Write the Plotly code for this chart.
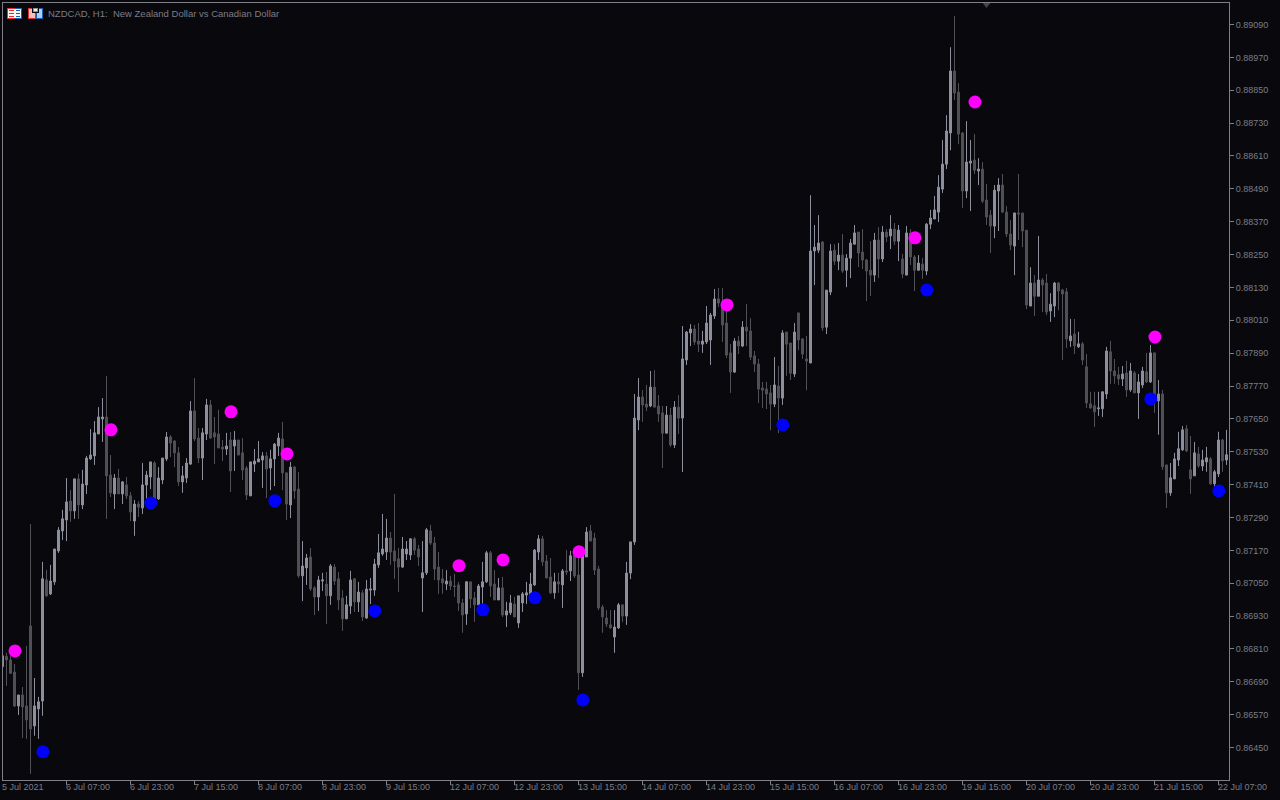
import numpy as np
import plotly.graph_objects as go

# prices in points (1 point = 0.00001)
opens = [
86746,86783,86770,86726,86602,86642,86602,86894,86529,86591,
86620,87062,87011,87055,87168,87241,87281,87350,87314,87431,
87336,87409,87504,87515,87595,87650,87657,87445,87376,87434,
87376,87409,87369,87277,87339,87325,87409,87438,87489,87358,
87427,87504,87584,87569,87526,87420,87434,87485,87679,87580,
87507,87595,87701,87599,87595,87547,87540,87573,87551,87573,
87526,87471,87369,87485,87493,87500,87515,87471,87504,87551,
87577,87453,87336,87474,87394,87077,87106,87146,87033,87000,
87058,87047,87004,87109,87066,86996,86920,86967,87066,86982,
87015,86923,87025,87025,87117,87157,87164,87215,87168,87139,
87109,87157,87153,87212,87175,87069,87088,87241,87197,87109,
87066,87047,87058,87040,87044,86978,86938,87055,86996,86971,
87036,87055,87161,87047,86989,87033,86934,86942,86974,86905,
86978,87007,87004,87044,87164,87212,87131,87073,87015,87055,
87044,87095,87095,87153,87080,86723,87146,87241,87215,87102,
86963,86923,86898,86854,86887,86971,86930,87087,87201,87646,
87730,87704,87697,87766,87697,87672,87598,87664,87555,87693,
87653,87865,87964,87978,87934,87923,87931,87938,88026,88088,
88073,88000,87891,87821,87934,87916,87985,87971,87880,87850,
87763,87759,87745,87704,87770,87726,87967,87927,87814,88037,
87942,87869,87854,88263,88266,88296,87985,88113,88266,88226,
88248,88193,88237,88288,88332,88259,88230,88193,88175,88303,
88234,88332,88318,88343,88299,88234,88175,88329,88241,88193,
88215,88190,88361,88380,88405,88489,88580,88694,88920,88843,
88694,88482,88584,88595,88555,88562,88449,88394,88354,88482,
88504,88405,88325,88281,88402,88402,88339,88062,88146,88098,
88157,88146,88044,88062,88146,88121,88114,87935,87960,87913,
87924,87840,87705,87698,87687,87687,87741,87895,87825,87811,
87796,87818,87756,87818,87745,87774,87822,87785,87891,87716,
87741,87482,87380,87431,87500,87537,87614,87464,87442,87522,
87478,87493,87504,87413,87449,87573,87500]
highs = [
86785,86796,86785,86755,86642,86671,86821,87266,86704,86635,
87128,87099,87117,87175,87255,87318,87434,87390,87431,87449,
87464,87515,87613,87642,87693,87726,87807,87518,87449,87467,
87423,87438,87383,87354,87350,87489,87460,87493,87496,87474,
87507,87602,87591,87573,87547,87478,87507,87715,87799,87617,
87617,87723,87719,87657,87683,87573,87599,87602,87606,87573,
87580,87478,87493,87540,87569,87529,87529,87537,87562,87599,
87639,87453,87493,87478,87456,87204,87157,87179,87040,87077,
87088,87091,87120,87120,87091,87025,87004,87095,87069,87055,
87025,87062,87069,87139,87230,87303,87285,87237,87376,87179,
87219,87204,87215,87219,87190,87204,87252,87263,87219,87164,
87102,87098,87077,87084,87055,86993,87058,87055,87018,87047,
87128,87168,87168,87098,87069,87073,86982,87007,87000,87004,
87018,87055,87088,87175,87226,87223,87153,87142,87088,87088,
87102,87171,87168,87171,87153,87157,87255,87263,87234,87113,
86971,86952,86952,86952,86978,86971,87128,87201,87741,87799,
87755,87774,87825,87828,87737,87697,87697,87690,87715,87737,
87989,87971,87996,87993,88000,87971,88062,88037,88124,88128,
88128,88047,87923,87945,87953,88007,88069,88018,87898,87869,
87785,87785,87774,87876,87843,87974,87967,87927,88000,88037,
87945,87953,88467,88358,88394,88299,88120,88288,88288,88292,
88325,88252,88307,88358,88332,88343,88234,88299,88329,88350,
88354,88343,88394,88365,88358,88252,88354,88343,88248,88248,
88237,88365,88413,88464,88540,88668,88759,89007,89121,88876,
88697,88737,88668,88690,88602,88588,88507,88413,88504,88529,
88544,88427,88376,88402,88544,88402,88339,88204,88175,88318,
88164,88179,88109,88150,88150,88125,88128,88015,88015,87968,
87931,87887,87749,87749,87749,87749,87913,87935,87869,87840,
87843,87862,87854,87825,87814,87840,87891,87920,87891,87792,
87756,87482,87489,87526,87603,87624,87628,87588,87566,87548,
87537,87548,87511,87464,87603,87577,87610]
lows = [
86746,86675,86719,86598,86569,86485,86482,86354,86493,86482,
86566,87000,87007,87044,87161,87208,87204,87274,87285,87285,
87321,87376,87500,87482,87595,87566,87285,87365,87321,87376,
87339,87358,87277,87223,87292,87303,87354,87394,87350,87354,
87412,87496,87511,87474,87405,87380,87416,87482,87569,87489,
87427,87573,87577,87485,87544,87496,87518,87383,87460,87518,
87427,87354,87369,87456,87493,87398,87361,87390,87405,87515,
87390,87281,87288,87358,87070,86985,87044,87022,86934,86949,
87022,86901,86971,87044,86952,86876,86920,86938,86945,86945,
86912,86920,86974,87004,87106,87150,87135,87117,87066,87018,
87106,87135,87135,87153,87113,86945,87080,87190,87062,87011,
87011,87025,87025,87000,86949,86869,86898,86960,86909,86967,
86967,87051,87000,86989,86989,86927,86890,86934,86927,86887,
86945,86974,86996,87040,87135,87113,87069,87011,86993,87015,
86960,87080,87058,87069,86661,86708,87146,87204,87080,86952,
86869,86890,86883,86796,86883,86908,86898,87065,87190,87609,
87639,87679,87693,87693,87639,87471,87598,87547,87544,87595,
87456,87847,87916,87920,87894,87891,87923,87847,88015,88058,
87931,87872,87745,87818,87887,87912,87916,87865,87821,87708,
87690,87686,87609,87693,87598,87701,87807,87792,87803,87901,
87869,87755,87854,88139,88256,87971,87960,88102,88212,88193,
88183,88131,88164,88288,88204,88197,88080,88099,88150,88164,
88223,88296,88270,88285,88226,88164,88175,88212,88117,88190,
88161,88175,88343,88380,88369,88475,88562,88631,88814,88653,
88420,88456,88409,88544,88504,88438,88358,88256,88310,88336,
88402,88314,88266,88175,88303,88277,88051,88062,88026,88098,
88040,88029,88004,88022,88047,87865,87909,87913,87887,87909,
87847,87690,87687,87621,87661,87657,87723,87778,87778,87774,
87770,87730,87749,87745,87650,87763,87781,87781,87672,87592,
87464,87325,87369,87431,87478,87533,87530,87376,87442,87471,
87460,87457,87409,87398,87438,87457,87482]
closes = [
86785,86770,86721,86602,86642,86598,86551,86518,86602,86617,
87066,87004,87058,87175,87244,87285,87347,87314,87431,87336,
87412,87507,87518,87599,87657,87657,87442,87380,87434,87376,
87420,87369,87310,87339,87328,87409,87445,87493,87358,87434,
87507,87584,87562,87526,87420,87442,87489,87679,87577,87507,
87599,87701,87580,87584,87544,87540,87551,87460,87573,87518,
87463,87372,87493,87496,87504,87515,87467,87504,87558,87580,
87453,87339,87474,87387,87077,87113,87142,87029,87000,87062,
87062,87004,87113,87058,86989,86920,86971,87062,86982,87018,
86927,87029,87029,87120,87161,87175,87215,87164,87131,87109,
87175,87175,87212,87171,87146,87088,87245,87197,87102,87062,
87051,87058,87040,87038,86978,86934,87055,86993,86971,87040,
87055,87161,87040,86989,87033,86934,86949,86978,86927,87004,
87011,87015,87047,87171,87212,87128,87069,87015,87055,87047,
87095,87091,87150,87077,86723,87153,87237,87204,87098,86960,
86927,86901,86887,86890,86971,86930,87087,87201,87653,87730,
87701,87693,87766,87693,87668,87598,87664,87555,87693,87653,
87869,87967,87978,87931,87923,87934,88000,88029,88088,88073,
87993,87883,87821,87934,87916,87985,87971,87876,87850,87759,
87755,87741,87704,87774,87726,87964,87923,87817,87967,87938,
87887,87861,88263,88277,88292,87982,88120,88263,88226,88248,
88190,88237,88292,88329,88256,88230,88190,88175,88303,88234,
88332,88314,88343,88299,88339,88179,88329,88241,88193,88219,
88193,88361,88383,88413,88496,88580,88701,88920,88840,88690,
88482,88588,88591,88558,88562,88445,88387,88354,88485,88504,
88405,88325,88285,88402,88398,88336,88066,88146,88098,88157,
88139,88040,88069,88146,88117,88106,87942,87953,87917,87924,
87865,87708,87690,87676,87690,87749,87898,87825,87807,87796,
87814,87756,87825,87745,87785,87825,87785,87891,87738,87741,
87475,87380,87435,87504,87541,87610,87533,87431,87526,87478,
87500,87508,87413,87457,87573,87497,87519]

sell_bar = [3, 27, 57, 71, 114, 125, 144, 181, 228, 243, 288]
sell_price = [86803, 87610, 87676, 87522, 87114, 87135, 87165, 88066, 88311, 88807, 87949]
buy_bar = [10, 37, 68, 93, 120, 133, 145, 195, 231, 287, 304]
buy_price = [86435, 87343, 87351, 86949, 86953, 86997, 86624, 87628, 88121, 87723, 87387]

x_ticks = list(range(0, 305, 16))
x_labels = ["5 Jul 2021", "6 Jul 07:00", "6 Jul 23:00", "7 Jul 15:00", "8 Jul 07:00",
            "8 Jul 23:00", "9 Jul 15:00", "12 Jul 07:00", "12 Jul 23:00", "13 Jul 15:00",
            "14 Jul 07:00", "14 Jul 23:00", "15 Jul 15:00", "16 Jul 07:00", "16 Jul 23:00",
            "19 Jul 15:00", "20 Jul 07:00", "20 Jul 23:00", "21 Jul 15:00", "22 Jul 07:00"]
y_ticks = [0.8645 + 0.0012 * k for k in range(23)]
title = "NZDCAD, H1:  New Zealand Dollar vs Canadian Dollar"

BG = "#08080d"
AXIS = "#7f7f88"
TXT = "#7d7d86"
UP = "#8f909e"
DOWN = "#515157"
FONT = "Liberation Sans"
FS = 9

P = 1e-5
bars = list(range(len(opens)))
X0, X1 = 0.125, 306.625
Y0, Y1 = 0.863316, 0.891685

fig = go.Figure()
fig.add_trace(go.Candlestick(
    x=bars, open=np.array(opens) * P, high=np.array(highs) * P,
    low=np.array(lows) * P, close=np.array(closes) * P,
    increasing=dict(line=dict(color=UP, width=1), fillcolor=UP),
    decreasing=dict(line=dict(color=DOWN, width=1), fillcolor=DOWN),
    whiskerwidth=0, hoverinfo="skip", showlegend=False))
fig.add_trace(go.Scatter(x=np.array(sell_bar) + 0.12, y=np.array(sell_price) * P, mode="markers",
                         marker=dict(color="#ff00ff", size=13), hoverinfo="skip", showlegend=False))
fig.add_trace(go.Scatter(x=np.array(buy_bar) + 0.08, y=np.array(buy_price) * P, mode="markers",
                         marker=dict(color="#0000ff", size=13), hoverinfo="skip", showlegend=False))
fig.add_trace(go.Scatter(x=[246], y=[Y1], mode="markers",
                         marker=dict(color="#45454e", size=10, symbol="triangle-down"),
                         hoverinfo="skip", showlegend=False))

annotations = [dict(x=max(t, X0 + 0.01), y=0, xref="x", yref="paper", xanchor="left", yanchor="top",
                    yshift=0, xshift=-3, text=s, showarrow=False, font=dict(family=FONT, size=FS, color=TXT))
               for t, s in zip(x_ticks, x_labels)]
annotations.append(dict(x=(48 - 3) / 1226, y=1 - (6 - 3) / 777, xref="paper", yref="paper",
                        xanchor="left", yanchor="top", text=title, showarrow=False,
                        xshift=-2, font=dict(family=FONT, size=9.5, color=TXT)))


def rect(x0, y0, x1, y1, fill):
    return dict(type="rect", xref="paper", yref="paper",
                x0=(x0 - 3) / 1226, x1=(x1 - 3) / 1226,
                y0=1 - (y0 - 3) / 777, y1=1 - (y1 - 3) / 777,
                fillcolor=fill, line=dict(width=0), layer="above")


shapes = [
    rect(7, 8, 15, 19, "#e03030"), rect(15, 8, 22, 19, "#1a5fb0"),
    rect(8, 9, 21, 18, "#f4f4f4"),
    rect(9, 10, 14, 11, "#e03030"), rect(9, 13, 14, 14, "#e03030"), rect(9, 16, 14, 17, "#e03030"),
    rect(16, 10, 20, 11, "#1a5fb0"), rect(16, 13, 20, 14, "#1a5fb0"), rect(16, 16, 20, 17, "#1a5fb0"),
    rect(28, 8, 36, 19, "#e03030"), rect(36, 8, 43, 19, "#1a5fb0"),
    rect(29, 9, 35, 18, "#f7c0b8"), rect(37, 9, 42, 18, "#a8d4f0"),
    rect(32, 7, 39, 13, BG), rect(33, 8, 38, 12, "#909090"), rect(34, 9, 37, 11, "#f0f0f0"),
]

fig.update_layout(
    width=1280, height=800, autosize=False,
    margin=dict(l=3, r=51, t=3, b=20, pad=0),
    paper_bgcolor=BG, plot_bgcolor=BG,
    showlegend=False, hovermode=False, boxgap=0.3, boxgroupgap=0.3,
    annotations=annotations, shapes=shapes,
    font=dict(family=FONT, size=FS, color=TXT),
    xaxis=dict(range=[X0, X1], rangeslider=dict(visible=False), showgrid=False, zeroline=False,
               showline=True, linecolor=AXIS, linewidth=1, mirror=True,
               tickmode="array", tickvals=x_ticks, ticks="outside", ticklen=4, tickcolor=AXIS,
               tickwidth=1, showticklabels=False),
    yaxis=dict(range=[Y0, Y1], side="right", showgrid=False, zeroline=False,
               showline=True, linecolor=AXIS, linewidth=1, mirror=True,
               tickmode="array", tickvals=y_ticks, tickformat=".5f", ticks="outside", ticklen=4,
               tickcolor=AXIS, tickwidth=1, tickfont=dict(family=FONT, size=FS, color=TXT)),
)

fig.write_html("out.html", config=dict(displayModeBar=False),
               post_script="document.body.style.margin='0';document.body.style.background='#08080d';")
